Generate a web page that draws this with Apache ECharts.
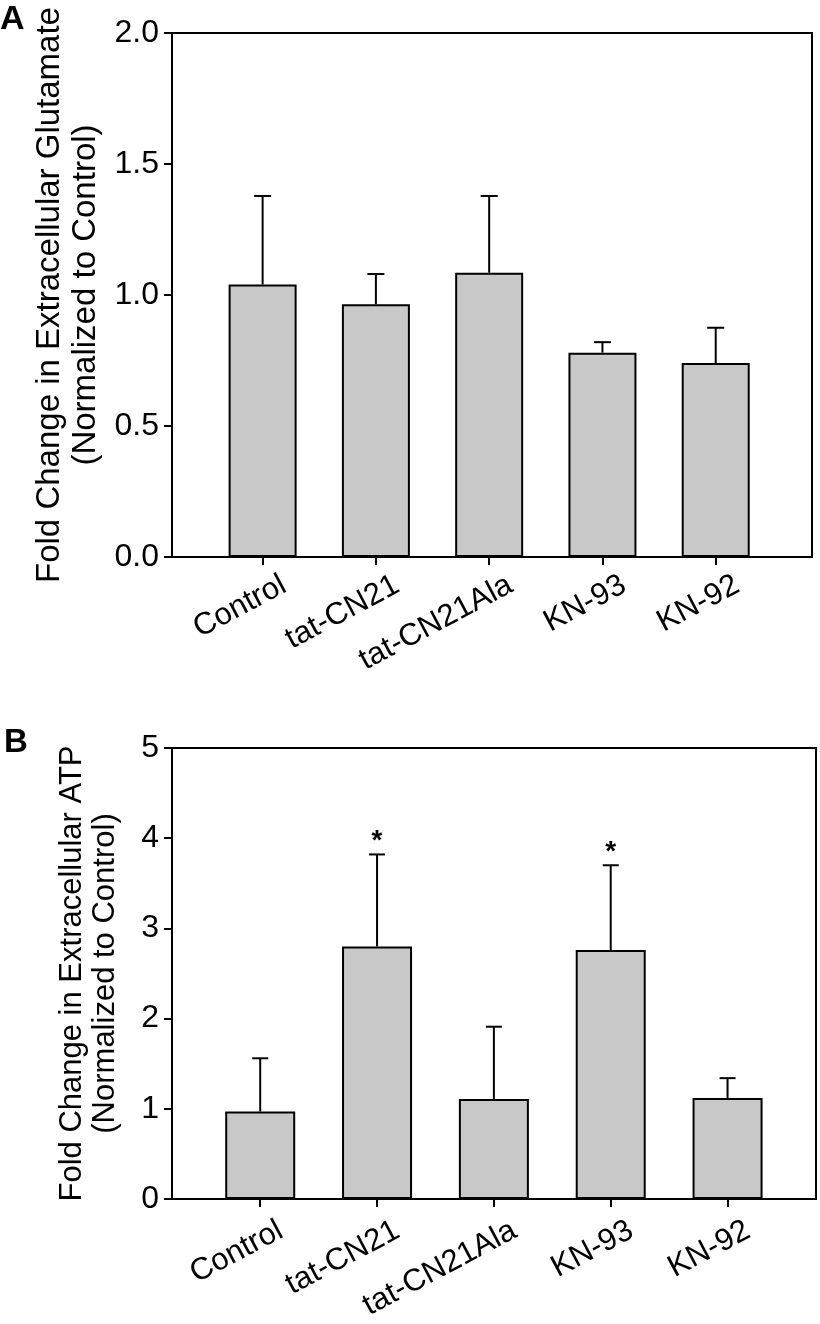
<!DOCTYPE html>
<html><head><meta charset="utf-8">
<script src="https://cdn.jsdelivr.net/npm/echarts@6/dist/echarts.min.js"></script>
<style>html,body{margin:0;padding:0;background:#fff}#c{width:820px;height:1324px}</style>
</head><body><div id="c"></div>
<script>
const categories = ['Control', 'tat-CN21', 'tat-CN21Ala', 'KN-93', 'KN-92'];
const glutMean = [1.04, 0.965, 1.085, 0.78, 0.74];
const glutErrTop = [1.378, 1.08, 1.378, 0.82, 0.875];
const atpMean = [0.97, 2.80, 1.11, 2.76, 1.12];
const atpErrTop = [1.56, 3.82, 1.91, 3.70, 1.34];
const atpSig = ['', '*', '', '*', ''];
const catIdx = categories.map((c, i) => i);

const FONT = 'Liberation Sans';

function xAxisCfg(gridIndex, min, max, pad, margin) {
  return {
    type: 'value', gridIndex, min, max,
    splitLine: { show: false },
    axisLine: { show: true, onZero: false, lineStyle: { color: '#000', width: 2 } },
    axisTick: { show: true, customValues: catIdx, length: 8, lineStyle: { color: '#000', width: 2 } },
    axisLabel: {
      customValues: catIdx, formatter: v => categories[Math.round(v)],
      rotate: 28, fontSize: 31, color: '#000', fontFamily: FONT,
      align: 'right', verticalAlign: 'top', padding: [0, pad, 0, 0], margin
    }
  };
}
function yAxisCfg(gridIndex, max, interval, dec, name, nameGap, fs, lh) {
  return {
    type: 'value', gridIndex, min: 0, max, interval,
    name, nameLocation: 'middle', nameGap,
    nameTextStyle: { fontSize: fs, color: '#000', fontFamily: FONT, lineHeight: lh, align: 'center' },
    splitLine: { show: false },
    axisLine: { show: true, onZero: false, lineStyle: { color: '#000', width: 2 } },
    axisTick: { show: true, length: 8, lineStyle: { color: '#000', width: 2 } },
    axisLabel: { fontSize: 32, color: '#000', fontFamily: FONT, margin: 13,
      formatter: v => v.toFixed(dec) }
  };
}
function errRender(cap) {
  return function (params, api) {
    const x = api.value(0);
    const b = api.coord([x, api.value(1)]);
    const t = api.coord([x, api.value(2)]);
    return { type: 'group', children: [
      { type: 'line', shape: { x1: b[0], y1: b[1], x2: t[0], y2: t[1] }, style: { stroke: '#000', lineWidth: 2 } },
      { type: 'line', shape: { x1: t[0] - cap / 2, y1: t[1], x2: t[0] + cap / 2, y2: t[1] }, style: { stroke: '#000', lineWidth: 2 } }
    ] };
  };
}
function sigRender(params, api) {
  const t = api.coord([api.value(0), api.value(1)]);
  return { type: 'text', x: t[0], y: t[1] - 13,
    style: { text: atpSig[params.dataIndex], font: 'bold 28px "Liberation Sans"', fill: '#000', align: 'center', verticalAlign: 'middle' } };
}

const chart = echarts.init(document.getElementById('c'), null, { renderer: 'canvas' });
chart.setOption({
  animation: false,
  backgroundColor: '#fff',
  grid: [
    { left: 172, right: 8, top: 33, bottom: 767, outerBoundsMode: 'none', containLabel: false, show: true, borderColor: '#000', borderWidth: 2, backgroundColor: 'transparent' },
    { left: 172, right: 4, top: 748, bottom: 125, outerBoundsMode: 'none', containLabel: false, show: true, borderColor: '#000', borderWidth: 2, backgroundColor: 'transparent' }
  ],
  graphic: [
    { type: 'text', left: 0, top: 3, style: { text: 'A', font: 'bold 34px "Liberation Sans"', fill: '#000' } },
    { type: 'text', left: 4, top: 726, style: { text: 'B', font: 'bold 33px "Liberation Sans"', fill: '#000' } }
  ],
  xAxis: [xAxisCfg(0, -0.8, 4.85, -16, 20), xAxisCfg(1, -0.755, 4.757, -15, 23)],
  yAxis: [
    yAxisCfg(0, 2, 0.5, 1, 'Fold Change in Extracellular Glutamate\n(Normalized to Control)', 64, 33, 36),
    yAxisCfg(1, 5, 1, 0, 'Fold Change in Extracellular ATP\n(Normalized to Control)', 50, 31, 33)
  ],
  series: [
    { type: 'bar', xAxisIndex: 0, yAxisIndex: 0, barWidth: 68,
      itemStyle: { color: '#c8c8c8', borderColor: '#000', borderWidth: 2 },
      data: catIdx.map(i => [i, glutMean[i]]) },
    { type: 'custom', xAxisIndex: 0, yAxisIndex: 0, renderItem: errRender(17), z: 3,
      data: catIdx.map(i => [i, glutMean[i], glutErrTop[i]]) },
    { type: 'bar', xAxisIndex: 1, yAxisIndex: 1, barWidth: 70,
      itemStyle: { color: '#c8c8c8', borderColor: '#000', borderWidth: 2 },
      data: catIdx.map(i => [i, atpMean[i]]) },
    { type: 'custom', xAxisIndex: 1, yAxisIndex: 1, renderItem: errRender(16), z: 3,
      data: catIdx.map(i => [i, atpMean[i], atpErrTop[i]]) },
    { type: 'custom', xAxisIndex: 1, yAxisIndex: 1, renderItem: sigRender, z: 4,
      data: catIdx.map(i => [i, atpErrTop[i]]) }
  ]
});
</script></body></html>
